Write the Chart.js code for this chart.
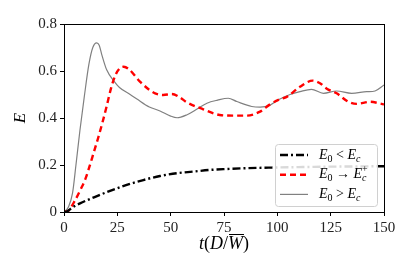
<!DOCTYPE html>
<html>
<head>
<meta charset="utf-8">
<script src="https://cdn.jsdelivr.net/npm/chart.js@4"></script>
<style>
  html, body { margin: 0; padding: 0; background: #fff; }
  #wrap { width: 415px; height: 276px; }
</style>
</head>
<body>
<div id="wrap"><canvas id="mainChart" width="415" height="276"></canvas></div>
<script>
// E0 < Ec
const tBelow = [0, 1.5, 4, 7.5, 13.7, 21.6, 29.4, 37.2, 45, 52.8, 60.6, 68.4, 76.3, 84, 97.4, 110, 125, 140, 150];
const eBelow = [0, 0.003, 0.02, 0.037, 0.061, 0.09, 0.115, 0.136, 0.153, 0.165, 0.172, 0.179, 0.183, 0.186, 0.189, 0.191, 0.193, 0.194, 0.195];

// E0 -> Ec+
const tCrit = [0, 2, 5.2, 8, 10, 12, 14, 16, 18, 20, 22, 24, 26, 28, 30.5, 35.6, 40, 42.7, 46.5, 50.5, 54, 57.5, 65.3, 73, 80, 85.6, 91.9, 96.6, 101.3, 104.4, 110.6, 116.6, 120, 123, 127.8, 133.3, 137.2, 143.4, 148, 150];
const eCrit = [0, 0.005, 0.05, 0.1, 0.14, 0.195, 0.255, 0.315, 0.38, 0.45, 0.525, 0.58, 0.61, 0.618, 0.607, 0.555, 0.52, 0.505, 0.498, 0.502, 0.49, 0.467, 0.437, 0.413, 0.41, 0.41, 0.427, 0.458, 0.48, 0.49, 0.533, 0.559, 0.548, 0.526, 0.505, 0.469, 0.46, 0.469, 0.462, 0.458];

// E0 > Ec
const tAbove = [0, 2, 4, 5.6, 7.5, 9.5, 11.7, 13.5, 15.3, 16.5, 17.7, 20, 23.6, 26, 31, 34, 40, 45, 50, 53, 57.5, 62, 67, 72, 77, 81, 88, 92, 96.6, 101, 106, 110.6, 116, 121.6, 127.8, 134.8, 141.9, 145.8, 150];
const eAbove = [0, 0.02, 0.08, 0.2, 0.35, 0.49, 0.63, 0.7, 0.72, 0.71, 0.67, 0.605, 0.555, 0.53, 0.5, 0.482, 0.447, 0.43, 0.408, 0.401, 0.413, 0.436, 0.463, 0.476, 0.484, 0.47, 0.449, 0.446, 0.455, 0.48, 0.5, 0.512, 0.522, 0.505, 0.515, 0.505, 0.512, 0.515, 0.54];

const xTicks = [0, 25, 50, 75, 100, 125, 150];
const yTicks = [0, 0.2, 0.4, 0.6, 0.8];

const serif = "'Liberation Serif', 'DejaVu Serif', serif";

function pts(ts, es) {
  return ts.map((t, i) => ({ x: t, y: es[i] }));
}

// frame around the plot area
const framePlugin = {
  id: 'frame',
  afterDraw(chart) {
    const a = chart.chartArea;
    const ctx = chart.ctx;
    ctx.save();
    ctx.strokeStyle = '#000';
    ctx.lineWidth = 1;
    ctx.strokeRect(Math.round(a.left) + 0.5, Math.round(a.top) + 0.5, Math.round(a.right - a.left), Math.round(a.bottom - a.top));
    ctx.restore();
  }
};

// legend with subscripts, lower right
const legendPlugin = {
  id: 'subLegend',
  afterDraw(chart) {
    const ctx = chart.ctx;
    const a = chart.chartArea;
    const w = 102, h = 62;
    const x0 = a.right - 7 - w, y0 = a.bottom - 6 - h;
    ctx.save();
    ctx.fillStyle = 'rgba(255,255,255,0.85)';
    ctx.strokeStyle = '#d0d0d0';
    ctx.lineWidth = 1;
    ctx.beginPath();
    ctx.roundRect(x0 + 0.5, y0 + 0.5, w, h, 3);
    ctx.fill();
    ctx.stroke();

    const rows = [
      { op: ' < ', sup2: '' },
      { op: ' \u2192 ', sup2: '+' },
      { op: ' > ', sup2: '' }
    ];
    chart.data.datasets.forEach((ds, i) => {
      const y = y0 + 11 + i * 19.7;
      ctx.beginPath();
      ctx.strokeStyle = ds.borderColor;
      ctx.lineWidth = ds.borderWidth;
      ctx.setLineDash(ds.borderDash || []);
      ctx.moveTo(x0 + 5, y);
      ctx.lineTo(x0 + 33, y);
      ctx.stroke();
      ctx.setLineDash([]);

      const r = rows[i];
      let x = x0 + 44;
      ctx.fillStyle = '#000';
      ctx.textBaseline = 'middle';
      ctx.font = 'italic 14px ' + serif;
      ctx.fillText('E', x, y);
      x += ctx.measureText('E').width;
      ctx.font = '10px ' + serif;
      ctx.fillText('0', x, y + 4);
      x += ctx.measureText('0').width;
      ctx.font = '14px ' + serif;
      ctx.fillText(r.op, x, y);
      x += ctx.measureText(r.op).width;
      ctx.font = 'italic 14px ' + serif;
      ctx.fillText('E', x, y);
      x += ctx.measureText('E').width;
      ctx.font = 'italic 10px ' + serif;
      ctx.fillText('c', x, y + 4);
      if (r.sup2) {
        ctx.font = '10px ' + serif;
        ctx.fillText(r.sup2, x, y - 5);
      }
    });
    ctx.restore();
  }
};

// x title with overline on W
const titlePlugin = {
  id: 'xTitle',
  afterDraw(chart) {
    const ctx = chart.ctx;
    const a = chart.chartArea;
    const cx = (a.left + a.right) / 2;
    const y = 249;
    ctx.save();
    ctx.fillStyle = '#000';
    ctx.textBaseline = 'alphabetic';
    const parts = [
      ['italic 18px ' + serif, 't'],
      ['18px ' + serif, '('],
      ['italic 18px ' + serif, 'D'],
      ['18px ' + serif, '/'],
      ['italic 18px ' + serif, 'W'],
      ['18px ' + serif, ')']
    ];
    let total = 0;
    parts.forEach(p => { ctx.font = p[0]; total += ctx.measureText(p[1]).width; });
    let x = cx - total / 2;
    parts.forEach(p => {
      ctx.font = p[0];
      const wd = ctx.measureText(p[1]).width;
      ctx.fillText(p[1], x, y);
      if (p[1] === 'W') {
        ctx.beginPath();
        ctx.lineWidth = 1;
        ctx.strokeStyle = '#000';
        ctx.moveTo(x + 1, y - 14.5);
        ctx.lineTo(x + wd + 1, y - 14.5);
        ctx.stroke();
      }
      x += wd;
    });
    ctx.restore();
  }
};

const ctx = document.getElementById('mainChart').getContext('2d');
const chart = new Chart(ctx, {
  type: 'line',
  data: {
    datasets: [
      {
        label: 'E0 < Ec',
        data: pts(tBelow, eBelow),
        borderColor: '#000',
        borderWidth: 2.4,
        borderDash: [8, 3, 2, 3],
        pointRadius: 0,
        fill: false,
        cubicInterpolationMode: 'monotone'
      },
      {
        label: 'E0 -> Ec+',
        data: pts(tCrit, eCrit),
        borderColor: '#ff0000',
        borderWidth: 2.4,
        borderDash: [6, 4],
        pointRadius: 0,
        fill: false,
        cubicInterpolationMode: 'monotone'
      },
      {
        label: 'E0 > Ec',
        data: pts(tAbove, eAbove),
        borderColor: '#808080',
        borderWidth: 1.2,
        pointRadius: 0,
        fill: false,
        cubicInterpolationMode: 'monotone'
      }
    ]
  },
  options: {
    responsive: false,
    animation: false,
    layout: { padding: { top: 24, right: 31, left: 0, bottom: 0 } },
    plugins: {
      legend: { display: false },
      tooltip: { enabled: false }
    },
    scales: {
      x: {
        type: 'linear',
        min: 0,
        max: 150,
        afterBuildTicks: (s) => { s.ticks = xTicks.map(v => ({ value: v })); },
        afterFit: (s) => { s.height = 64; },
        grid: { display: true, drawOnChartArea: false, drawTicks: true, tickLength: 4, tickColor: '#000' },
        border: { display: true, color: '#000', width: 1 },
        ticks: { color: '#222', font: { family: serif, size: 15 }, padding: 3, maxRotation: 0 }
      },
      y: {
        min: 0,
        max: 0.8,
        afterBuildTicks: (s) => { s.ticks = yTicks.map(v => ({ value: v })); },
        afterFit: (s) => { s.width = 64; },
        grid: { display: true, drawOnChartArea: false, drawTicks: true, tickLength: 4, tickColor: '#000' },
        border: { display: true, color: '#000', width: 1 },
        ticks: { color: '#222', font: { family: serif, size: 15 }, padding: 3,
          callback: (v) => v === 0 ? '0' : v.toFixed(1) },
        title: { display: true, text: 'E', color: '#000', font: { family: serif, size: 17, style: 'italic' }, padding: { top: 10, bottom: 0 } }
      }
    }
  },
  plugins: [framePlugin, legendPlugin, titlePlugin]
});
</script>
</body>
</html>
